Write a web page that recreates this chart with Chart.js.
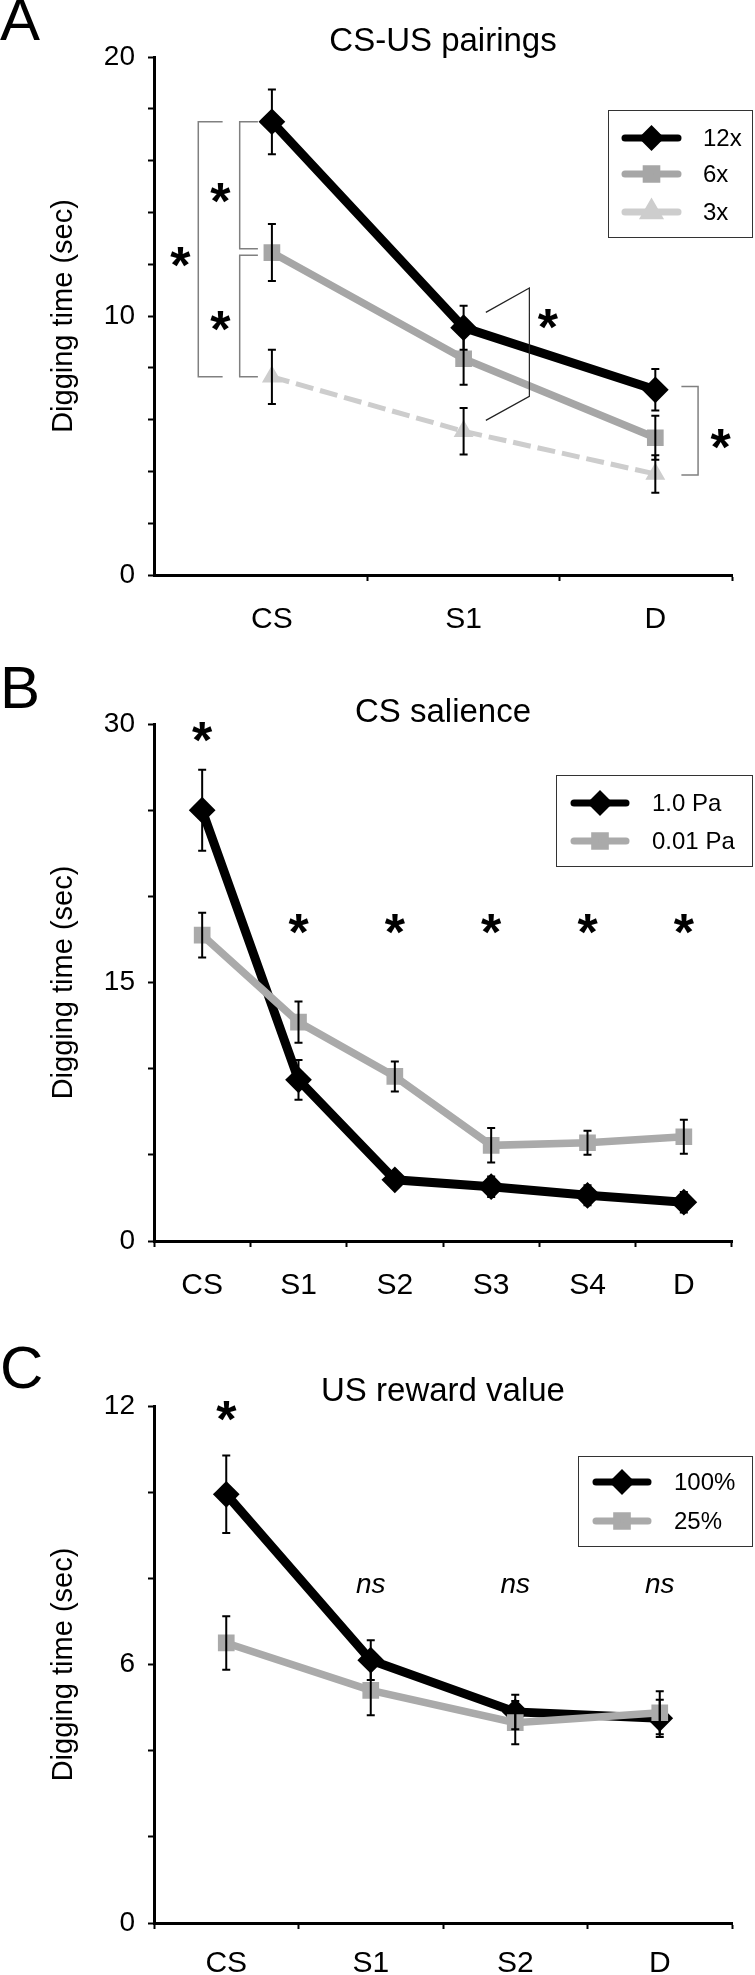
<!DOCTYPE html>
<html>
<head>
<meta charset="utf-8">
<script src="https://cdn.jsdelivr.net/npm/chart.js@4.4.0/dist/chart.umd.min.js"></script>
<style>
    body { margin: 0; background: #fff; width: 755px; height: 1975px; position: relative; overflow: hidden; }
    .panel { position: absolute; left: 0; width: 755px; }
</style>
</head>
<body>
<div class="panel" style="top:0;height:640px"><canvas id="chartA"></canvas></div>
<div class="panel" style="top:640px;height:660px"><canvas id="chartB"></canvas></div>
<div class="panel" style="top:1300px;height:675px"><canvas id="chartC"></canvas></div>
<script>
// A: CS-US pairings
const pairingCats = ['CS', 'S1', 'D'];
const pairing12x = [17.5, 9.55, 7.15];
const pairing12xErr = [1.25, 0.85, 0.8];
const pairing6x = [12.45, 8.35, 5.3];
const pairing6xErr = [1.1, 1.0, 0.85];
const pairing3x = [7.65, 5.55, 3.9];
const pairing3xErr = [1.05, 0.9, 0.72];

// B: CS salience
const salienceCats = ['CS', 'S1', 'S2', 'S3', 'S4', 'D'];
const salienceHigh = [25.0, 9.35, 3.55, 3.15, 2.65, 2.25];
const salienceHighErr = [2.35, 1.15, 0.45, 0.6, 0.58, 0.6];
const salienceLow = [17.75, 12.7, 9.55, 5.55, 5.7, 6.05];
const salienceLowErr = [1.3, 1.2, 0.87, 1.0, 0.7, 0.98];

// C: US reward value
const rewardCats = ['CS', 'S1', 'S2', 'D'];
const reward100 = [9.95, 6.1, 4.9, 4.75];
const reward100Err = [0.9, 0.46, 0.4, 0.43];
const reward25 = [6.5, 5.4, 4.65, 4.88];
const reward25Err = [0.62, 0.58, 0.5, 0.5];

const FONT = '"Liberation Sans", Arial, sans-serif';
Chart.defaults.font.family = FONT;
Chart.defaults.color = '#000';

const errorBars = {
    id: 'errorBars',
    afterDatasetsDraw(chart) {
        const ctx = chart.ctx;
        const yScale = chart.scales.y;
        ctx.save();
        ctx.strokeStyle = '#000';
        ctx.lineWidth = 2;
        chart.data.datasets.forEach((ds, di) => {
            const meta = chart.getDatasetMeta(di);
            meta.data.forEach((pt, i) => {
                const d = ds.data[i];
                const v = typeof d === 'object' ? d.y : d;
                const e = ds.errors[i];
                const top = yScale.getPixelForValue(v + e);
                const bot = yScale.getPixelForValue(v - e);
                ctx.beginPath();
                ctx.moveTo(pt.x, top); ctx.lineTo(pt.x, bot);
                ctx.moveTo(pt.x - 4, top); ctx.lineTo(pt.x + 4, top);
                ctx.moveTo(pt.x - 4, bot); ctx.lineTo(pt.x + 4, bot);
                ctx.stroke();
            });
        });
        ctx.restore();
    }
};

const decor = {
    id: 'decor',
    afterDraw(chart, args, opts) {
        const { ctx, chartArea } = chart;
        const xs = chart.scales.x, ys = chart.scales.y;
        ctx.save();
        ctx.fillStyle = '#000';

        ctx.font = '60px ' + FONT;
        ctx.textAlign = 'left';
        ctx.textBaseline = 'alphabetic';
        ctx.fillText(opts.letter, 0, opts.letterBase);

        ctx.font = '33px ' + FONT;
        ctx.textAlign = 'center';
        ctx.fillText(opts.title, (chartArea.left + chartArea.right) / 2, opts.titleBase);

        (opts.brackets || []).forEach(b => {
            ctx.beginPath();
            ctx.strokeStyle = b.color;
            ctx.lineWidth = b.width;
            b.path.forEach(([vx, vy], k) => {
                const px = xs.getPixelForValue(vx), py = ys.getPixelForValue(vy);
                if (k) ctx.lineTo(px, py); else ctx.moveTo(px, py);
            });
            ctx.stroke();
        });

        (opts.marks || []).forEach(m => {
            const px = xs.getPixelForValue(m.x), py = ys.getPixelForValue(m.y);
            if (m.text === '*') {
                ctx.font = 'bold 52px ' + FONT;
                ctx.textBaseline = 'alphabetic';
                ctx.fillText('*', px, py + 30);
            } else {
                ctx.font = 'italic 28px ' + FONT;
                ctx.textBaseline = 'middle';
                ctx.fillText(m.text, px, py);
            }
        });

        const lg = opts.legend;
        ctx.strokeStyle = '#333';
        ctx.lineWidth = 1;
        ctx.strokeRect(lg.left + 0.5, lg.top + 0.5, lg.width, lg.height);
        ctx.font = '24px ' + FONT;
        ctx.textAlign = 'left';
        ctx.textBaseline = 'middle';
        chart.data.datasets.forEach((ds, i) => {
            const ry = lg.rows[i];
            ctx.beginPath();
            ctx.strokeStyle = ds.borderColor;
            ctx.lineWidth = 7;
            ctx.lineCap = 'round';
            ctx.moveTo(lg.lineFrom, ry);
            ctx.lineTo(lg.lineTo, ry);
            ctx.stroke();
            ctx.fillStyle = ds.borderColor;
            ctx.strokeStyle = ds.borderColor;
            Chart.helpers.drawPoint(ctx, {
                pointStyle: ds.pointStyle,
                radius: ds.pointRadius + 1,
                rotation: 0,
                borderWidth: 1
            }, (lg.lineFrom + lg.lineTo) / 2, ry);
            ctx.fillStyle = '#000';
            ctx.fillText(ds.label, lg.textX, ry + 1);
        });
        ctx.restore();
    }
};

function yAxis(max, step, major, tickPadding) {
    return {
        min: 0,
        max: max,
        afterFit: s => { s.width = 154; },
        ticks: { stepSize: step, padding: tickPadding, font: { size: 28 }, callback: v => v % major === 0 ? v : '' },
        grid: { drawOnChartArea: false, tickLength: 6, tickWidth: 2, tickColor: '#000' },
        border: { color: '#000', width: 3 },
        title: { display: true, text: 'Digging time (sec)', font: { size: 29 }, padding: { top: 47, bottom: 0 } }
    };
}

function categoryAxis(height, pad) {
    return {
        type: 'category',
        offset: true,
        afterFit: s => { s.height = height; },
        ticks: { padding: pad, font: { size: 30 }, maxRotation: 0, autoSkip: false },
        grid: { offset: true, drawOnChartArea: false, tickLength: 6, tickWidth: 2, tickColor: '#000' },
        border: { color: '#000', width: 3 }
    };
}

// later series sit on top, as in the original figure
function blackSeries(label, data, errors) {
    return {
        label, data, errors, order: 3,
        borderColor: '#000', backgroundColor: '#000',
        borderWidth: 9, pointStyle: 'rectRot', pointRadius: 7,
        pointBackgroundColor: '#000', pointBorderColor: '#000'
    };
}

function graySeries(label, data, errors, color) {
    return {
        label, data, errors, order: 2,
        borderColor: color, backgroundColor: color,
        borderWidth: 7.5, pointStyle: 'rect', pointRadius: 6.5,
        pointBackgroundColor: color, pointBorderColor: color
    };
}

const common = {
    responsive: true,
    maintainAspectRatio: false,
    animation: false,
    plugins: { legend: { display: false }, tooltip: { enabled: false } }
};

// panel A
const toXY = arr => arr.map((v, i) => ({ x: i, y: v }));
new Chart(document.getElementById('chartA'), {
    type: 'line',
    data: {
        datasets: [
            blackSeries('12x', toXY(pairing12x), pairing12xErr),
            graySeries('6x', toXY(pairing6x), pairing6xErr, '#a6a6a6'),
            {
                label: '3x', data: toXY(pairing3x), errors: pairing3xErr, order: 1,
                borderColor: '#cdcdcd', backgroundColor: '#cdcdcd',
                borderWidth: 5, borderDash: [18, 7], pointStyle: 'triangle', pointRadius: 6.5,
                pointBackgroundColor: '#cdcdcd', pointBorderColor: '#cdcdcd'
            }
        ]
    },
    options: {
        ...common,
        layout: { padding: { top: 57, right: 23, left: 0, bottom: 0 } },
        scales: {
            x: {
                type: 'linear',
                min: -0.615,
                max: 2.4,
                afterBuildTicks: s => { s.ticks = [0, 0.5, 1, 1.5, 2, 2.4].map(v => ({ value: v })); },
                afterFit: s => { s.height = 65; },
                ticks: { autoSkip: false, maxRotation: 0, padding: 21, font: { size: 30 },
                         callback: v => Number.isInteger(v) ? pairingCats[v] : '' },
                grid: { drawOnChartArea: false, tickLength: 6, tickWidth: 2,
                        tickColor: c => (c.tick && Number.isInteger(c.tick.value)) ? 'rgba(0,0,0,0)' : '#000' },
                border: { color: '#000', width: 3 }
            },
            y: yAxis(20, 2, 10, 13)
        },
        plugins: {
            ...common.plugins,
            decor: {
                letter: 'A', letterBase: 40, title: 'CS-US pairings', titleBase: 51,
                brackets: [
                    { color: '#808080', width: 1.5, path: [[-0.257, pairing12x[0]], [-0.384, pairing12x[0]], [-0.384, pairing3x[0]], [-0.257, pairing3x[0]]] },
                    { color: '#808080', width: 1.5, path: [[-0.073, pairing12x[0]], [-0.168, pairing12x[0]], [-0.168, pairing6x[0] + 0.15], [-0.073, pairing6x[0] + 0.15]] },
                    { color: '#808080', width: 1.5, path: [[-0.073, pairing6x[0] - 0.1], [-0.168, pairing6x[0] - 0.1], [-0.168, pairing3x[0]], [-0.073, pairing3x[0]]] },
                    { color: '#222', width: 1.2, path: [[1.116, 10.14], [1.343, 11.08], [1.343, 6.9], [1.116, 5.97]] },
                    { color: '#808080', width: 1.5, path: [[2.136, 7.28], [2.223, 7.28], [2.223, 3.86], [2.136, 3.86]] }
                ],
                marks: [
                    { x: -0.478, y: 12.45, text: '*' },
                    { x: -0.269, y: 14.9, text: '*' },
                    { x: -0.269, y: 9.95, text: '*' },
                    { x: 1.439, y: 10.05, text: '*' },
                    { x: 2.34, y: 5.42, text: '*' }
                ],
                legend: { left: 608, top: 110, width: 144, height: 127, rows: [138, 174, 212], lineFrom: 625, lineTo: 678, textX: 703 }
            }
        }
    },
    plugins: [errorBars, decor]
});

// panel B
new Chart(document.getElementById('chartB'), {
    type: 'line',
    data: {
        labels: salienceCats,
        datasets: [
            blackSeries('1.0 Pa', salienceHigh, salienceHighErr),
            graySeries('0.01 Pa', salienceLow, salienceLowErr, '#aaaaaa')
        ]
    },
    options: {
        ...common,
        layout: { padding: { top: 84, right: 23, left: 0, bottom: 0 } },
        scales: {
            x: categoryAxis(59, 21),
            y: yAxis(30, 5, 15, 13)
        },
        plugins: {
            ...common.plugins,
            decor: {
                letter: 'B', letterBase: 68, title: 'CS salience', titleBase: 82,
                marks: [
                    { x: 0, y: 29.75, text: '*' },
                    { x: 1, y: 18.6, text: '*' },
                    { x: 2, y: 18.6, text: '*' },
                    { x: 3, y: 18.6, text: '*' },
                    { x: 4, y: 18.6, text: '*' },
                    { x: 5, y: 18.6, text: '*' }
                ],
                legend: { left: 556, top: 135, width: 196, height: 91, rows: [163, 201], lineFrom: 574, lineTo: 626, textX: 652 }
            }
        }
    },
    plugins: [errorBars, decor]
});

// panel C
new Chart(document.getElementById('chartC'), {
    type: 'line',
    data: {
        labels: rewardCats,
        datasets: [
            blackSeries('100%', reward100, reward100Err),
            graySeries('25%', reward25, reward25Err, '#aaaaaa')
        ]
    },
    options: {
        ...common,
        layout: { padding: { top: 106, right: 23, left: 0, bottom: 0 } },
        scales: {
            x: categoryAxis(52, 17),
            y: yAxis(12, 2, 6, 13)
        },
        plugins: {
            ...common.plugins,
            decor: {
                letter: 'C', letterBase: 88, title: 'US reward value', titleBase: 101,
                marks: [
                    { x: 0, y: 11.98, text: '*' },
                    { x: 1, y: 7.84, text: 'ns' },
                    { x: 2, y: 7.84, text: 'ns' },
                    { x: 3, y: 7.84, text: 'ns' }
                ],
                legend: { left: 578, top: 156, width: 174, height: 90, rows: [182, 221], lineFrom: 596, lineTo: 648, textX: 674 }
            }
        }
    },
    plugins: [errorBars, decor]
});
</script>
</body>
</html>
